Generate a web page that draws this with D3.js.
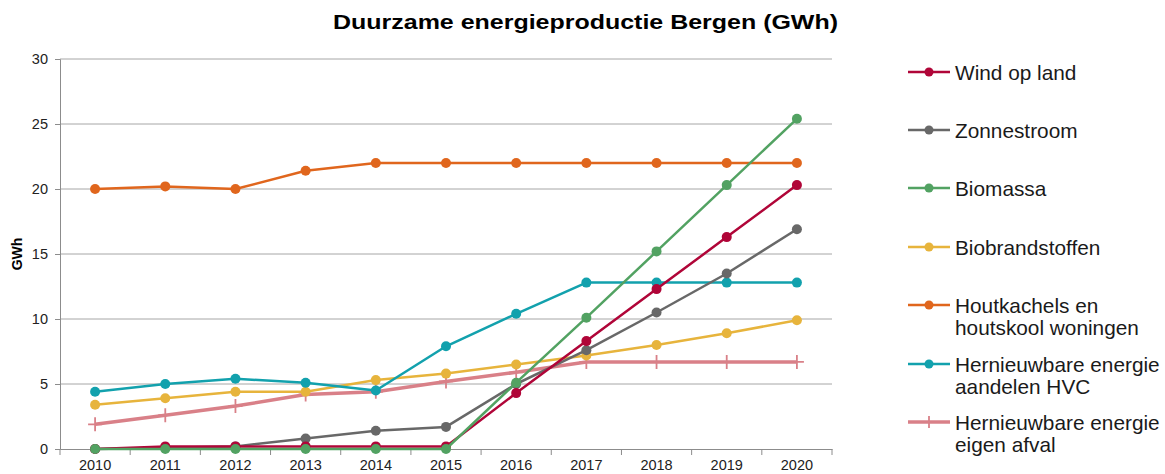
<!DOCTYPE html>
<html>
<head>
<meta charset="utf-8">
<script src="https://cdn.jsdelivr.net/npm/d3@7"></script>
<style>
  body { margin: 0; background: #fff; }
  svg { font-family: "Liberation Sans", Arial, sans-serif; }
</style>
</head>
<body>
<svg width="1165" height="474"></svg>
<script>
// Data
var years = ["2010","2011","2012","2013","2014","2015","2016","2017","2018","2019","2020"];
var windOpLand      = [0, 0.2, 0.2, 0.2, 0.2, 0.2, 4.3, 8.3, 12.3, 16.3, 20.3];
var zonnestroom     = [0, 0.1, 0.2, 0.8, 1.4, 1.7, 5.0, 7.6, 10.5, 13.5, 16.9];
var biomassa        = [0, 0, 0, 0, 0, 0, 5.1, 10.1, 15.2, 20.3, 25.4];
var biobrandstoffen = [3.4, 3.9, 4.4, 4.4, 5.3, 5.8, 6.5, 7.2, 8.0, 8.9, 9.9];
var houtkachels     = [20.0, 20.2, 20.0, 21.4, 22.0, 22.0, 22.0, 22.0, 22.0, 22.0, 22.0];
var hvc             = [4.4, 5.0, 5.4, 5.1, 4.5, 7.9, 10.4, 12.8, 12.8, 12.8, 12.8];
var eigenAfval      = [1.9, 2.6, 3.3, 4.2, 4.4, 5.2, 5.9, 6.7, 6.7, 6.7, 6.7];
var yTicks = [0, 5, 10, 15, 20, 25, 30];

var series = [
  {name: ["Wind op land"], values: windOpLand, color: "#b00538", marker: "dot"},
  {name: ["Zonnestroom"], values: zonnestroom, color: "#686868", marker: "dot"},
  {name: ["Biomassa"], values: biomassa, color: "#52a262", marker: "dot"},
  {name: ["Biobrandstoffen"], values: biobrandstoffen, color: "#e7b43c", marker: "dot"},
  {name: ["Houtkachels en", "houtskool woningen"], values: houtkachels, color: "#e0661d", marker: "dot"},
  {name: ["Hernieuwbare energie", "aandelen HVC"], values: hvc, color: "#12a1ad", marker: "dot"},
  {name: ["Hernieuwbare energie", "eigen afval"], values: eigenAfval, color: "#d98088", marker: "plus"}
];

var svg = d3.select("svg");

// Title
svg.append("text")
    .attr("x", 585.5)
    .attr("y", 29)
    .attr("text-anchor", "middle")
    .attr("font-size", 21)
    .attr("font-weight", "bold")
    .attr("fill", "#000")
    .attr("textLength", 505)
    .attr("lengthAdjust", "spacingAndGlyphs")
    .text("Duurzame energieproductie Bergen (GWh)");

// Scales
var x = d3.scaleBand().domain(years).range([60, 832]);
var y = d3.scaleLinear().domain([0, 30]).range([449, 59]);
var cx = function(i) { return x(years[i]) + x.bandwidth() / 2; };

// Gridlines
svg.append("g")
    .selectAll("line")
    .data(yTicks.filter(function(d) { return d > 0; }))
    .enter().append("line")
      .attr("x1", 60).attr("x2", 832)
      .attr("y1", function(d) { return y(d); })
      .attr("y2", function(d) { return y(d); })
      .attr("stroke", "#a6a6a6")
      .attr("stroke-width", 1);

// Y axis
var yAxis = svg.append("g")
    .attr("transform", "translate(60,0)")
    .call(d3.axisLeft(y).tickValues(yTicks).tickSize(5).tickPadding(7));
yAxis.selectAll("path, line").attr("stroke", "#8c8c8c");
yAxis.selectAll("text").attr("font-size", 14.5).attr("fill", "#222")
    .attr("font-family", "Liberation Sans, Arial, sans-serif");

// X axis
var xAxis = svg.append("g")
    .attr("transform", "translate(0,449)")
    .call(d3.axisBottom(x).tickSize(0).tickPadding(11));
xAxis.select("path").attr("stroke", "#8c8c8c");
xAxis.selectAll("text").attr("font-size", 14.5).attr("fill", "#222")
    .attr("font-family", "Liberation Sans, Arial, sans-serif");
// tick marks at band boundaries
xAxis.selectAll(".bound")
    .data(d3.range(years.length + 1))
    .enter().append("line")
      .attr("class", "bound")
      .attr("x1", function(i) { return 60 + i * x.step(); })
      .attr("x2", function(i) { return 60 + i * x.step(); })
      .attr("y1", 0).attr("y2", 6)
      .attr("stroke", "#8c8c8c");

// Y label
svg.append("text")
    .attr("transform", "translate(22,254) rotate(-90)")
    .attr("text-anchor", "middle")
    .attr("font-size", 14)
    .attr("font-weight", "bold")
    .text("GWh");

// Lines
var line = d3.line()
    .x(function(d, i) { return cx(i); })
    .y(function(d) { return y(d); });

// draw in order so green/red sit on top near zero like the original
var drawOrder = [6, 4, 3, 5, 1, 0, 2];
drawOrder.forEach(function(k) {
  var s = series[k];
  var g = svg.append("g");
  g.append("path")
      .datum(s.values)
      .attr("fill", "none")
      .attr("stroke", s.color)
      .attr("stroke-width", s.marker === "plus" ? 3.5 : 2.5)
      .attr("stroke-linejoin", "round")
      .attr("d", line);
  if (s.marker === "dot") {
    g.selectAll("circle")
      .data(s.values)
      .enter().append("circle")
        .attr("cx", function(d, i) { return cx(i); })
        .attr("cy", function(d) { return y(d); })
        .attr("r", 5)
        .attr("fill", s.color);
  } else {
    g.selectAll("path.plus")
      .data(s.values)
      .enter().append("path")
        .attr("class", "plus")
        .attr("d", function(d, i) {
          var px = cx(i), py = y(d);
          return "M" + (px - 7) + "," + py + "H" + (px + 7) + "M" + px + "," + (py - 7) + "V" + (py + 7);
        })
        .attr("stroke", s.color)
        .attr("stroke-width", 1.8);
  }
});

// Legend
var legendY = [72, 130, 188, 247, 305, 364, 422];
var legend = svg.append("g");
series.forEach(function(s, k) {
  var ly = legendY[k];
  legend.append("line")
      .attr("x1", 908).attr("x2", 950)
      .attr("y1", ly).attr("y2", ly)
      .attr("stroke", s.color)
      .attr("stroke-width", s.marker === "plus" ? 3.5 : 2.5);
  if (s.marker === "dot") {
    legend.append("circle")
        .attr("cx", 929).attr("cy", ly).attr("r", 4.5)
        .attr("fill", s.color);
  } else {
    legend.append("path")
        .attr("d", "M929," + (ly - 6) + "V" + (ly + 6))
        .attr("stroke", s.color)
        .attr("stroke-width", 1.8);
  }
  s.name.forEach(function(t, j) {
    legend.append("text")
        .attr("x", 955)
        .attr("y", ly + 8 + j * 22)
        .attr("font-size", 20.8)
        .attr("fill", "#1a1a1a")
        .text(t);
  });
});
</script>
</body>
</html>
